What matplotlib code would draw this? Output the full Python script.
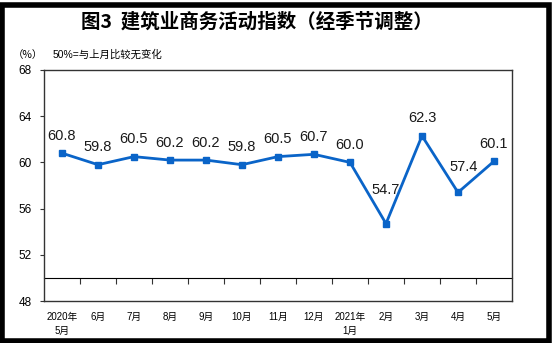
import matplotlib
matplotlib.use("Agg")
import matplotlib.pyplot as plt
from matplotlib.patches import Rectangle

plt.rcParams['font.family'] = ['Liberation Sans', 'Noto Sans CJK SC', 'DejaVu Sans']

# ---- data ----
months = ["2020年\n5月", "6月", "7月", "8月", "9月", "10月", "11月", "12月",
          "2021年\n1月", "2月", "3月", "4月", "5月"]
values = [60.8, 59.8, 60.5, 60.2, 60.2, 59.8, 60.5, 60.7, 60.0, 54.7, 62.3, 57.4, 60.1]
yticks = [48, 52, 56, 60, 64, 68]
title = "图3  建筑业商务活动指数（经季节调整）"
unit_text = "（%）"
note_text = "50%=与上月比较无变化"
baseline = 50

# label offsets in points (dx, dy)
label_offsets = [(0, 12.6)] * 9 + [(0, 24.5), (0, 12.6), (4.3, 18), (0, 12.6)]

W, H = 553, 343
fig = plt.figure(figsize=(W / 100, H / 100), dpi=100)
fig.patch.set_facecolor('white')

ax = fig.add_axes([44 / W, 1 - 301 / H, (512 - 44) / W, (301 - 70) / H])
x = list(range(len(values)))
color = '#0A64C8'
ax.plot(x, values, color=color, lw=2.0, marker='s', ms=5, mec=color, mfc=color, zorder=3)

for xi, v, (dx, dy) in zip(x, values, label_offsets):
    ax.annotate(f"{v:.1f}", (xi, v), xytext=(dx, dy), textcoords='offset points',
                ha='center', va='center', fontsize=10.5, color='#1a1a1a',
                family=['Liberation Sans', 'DejaVu Sans'])

ax.set_xlim(-0.5, len(values) - 0.5)
ax.set_ylim(yticks[0], yticks[-1])
ax.set_yticks(yticks)
ax.set_yticklabels([str(t) for t in yticks], fontsize=8.5, family=['Liberation Sans'])
ax.tick_params(axis='y', direction='out', length=3, width=0.8, pad=6, colors='#333333',
               labelcolor='black')

ax.set_xticks(x)
ax.set_xticklabels(months, fontsize=7, family=['Liberation Sans', 'Noto Sans CJK SC'],
                   linespacing=1.5)
ax.tick_params(axis='x', length=0, pad=8)

for s in ax.spines.values():
    s.set_color('#333333')
    s.set_linewidth(1.0)

# baseline axis at 50 with ticks between categories
sec = ax.secondary_xaxis(baseline, transform=ax.transData)
sec.set_xticks([i + 0.5 for i in x[:-1]])
sec.set_xticklabels([])
sec.tick_params(axis='x', direction='in', length=4, width=0.8, colors='#333333')
sec.spines['bottom'].set_color('#333333')
sec.spines['bottom'].set_linewidth(1.0)

fig.text(257 / W, 1 - 22 / H, title, ha='center', va='center', fontsize=14,
         fontweight='bold', family=['Noto Sans CJK SC', 'DejaVu Sans'])
fig.text(28 / W, 1 - 55 / H, unit_text, ha='center', va='center', fontsize=7.5,
         family=['Noto Sans CJK SC', 'DejaVu Sans'])
fig.text(53 / W, 1 - 55 / H, note_text, ha='left', va='center', fontsize=7.5,
         family=['Liberation Sans', 'Noto Sans CJK SC', 'DejaVu Sans'])

# black frame
fig.patches.append(Rectangle((2 / W, 2.5 / H), (W - 6.5) / W, (H - 7.5) / H,
                             transform=fig.transFigure, fill=False,
                             edgecolor='black', linewidth=4))

fig.savefig("out.png", dpi=100, facecolor='white')
